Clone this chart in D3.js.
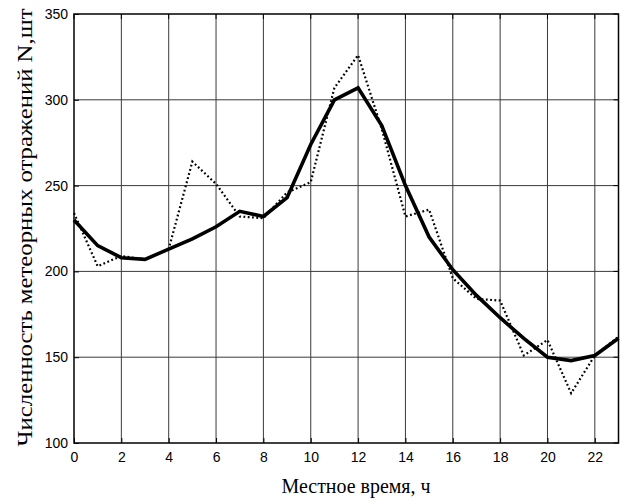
<!DOCTYPE html>
<html>
<head>
<meta charset="utf-8">
<script src="https://cdn.jsdelivr.net/npm/d3@7"></script>
<style>
html,body{margin:0;padding:0;background:#fff;}
svg{display:block;}
</style>
</head>
<body>
<svg id="chart" width="628" height="504"></svg>
<script>
const hours = [0,1,2,3,4,5,6,7,8,9,10,11,12,13,14,15,16,17,18,19,20,21,22,23];
const smoothed = [230,215,208,207,213,219,226,235,232,243,274,300,307,285,250,220,201,186,173,161,150,148,151,161];
const measured = [234,203,209,207,213,264,251,232,231,246,252,307,326,283,232,236,196,184,183,151,160,129,151,162];
const xTicks = [0,2,4,6,8,10,12,14,16,18,20,22];
const yTicks = [100,150,200,250,300,350];
const xTitle = "Местное время, ч";
const yTitle = "Численность метеорных отражений N,шт";

const svg = d3.select("#chart");
const L = 74, R = 618.5, T = 14, B = 443;
const x = d3.scaleLinear().domain([0,23]).range([L,R]);
const y = d3.scaleLinear().domain([100,350]).range([B,T]);

// grid
const grid = svg.append("g").attr("stroke","#3a3a3a").attr("stroke-width",1);
grid.selectAll("line.vx").data(xTicks.filter(d=>d>0)).enter().append("line")
  .attr("x1",d=>x(d)).attr("x2",d=>x(d)).attr("y1",T).attr("y2",B);
grid.selectAll("line.hy").data(yTicks.filter(d=>d>100 && d<350)).enter().append("line")
  .attr("x1",L).attr("x2",R).attr("y1",d=>y(d)).attr("y2",d=>y(d));

// axes
const fontTick = "'Liberation Sans', Arial, sans-serif";
const gx = svg.append("g").attr("transform",`translate(0,${B})`)
  .call(d3.axisBottom(x).tickValues(xTicks).tickSize(-5).tickPadding(9).tickFormat(d3.format("d")));
const gy = svg.append("g").attr("transform",`translate(${L},0)`)
  .call(d3.axisLeft(y).tickValues(yTicks).tickSize(-5).tickPadding(6).tickFormat(d3.format("d")));
[gx,gy].forEach(g=>{
  g.select(".domain").remove();
  g.selectAll("text").attr("font-family",fontTick).attr("font-size",14).attr("fill","#000");
  g.selectAll("line").attr("stroke","#000");
});
// right-side ticks
svg.append("g").selectAll("line").data(yTicks).enter().append("line")
  .attr("x1",R).attr("x2",R-5).attr("y1",d=>y(d)).attr("y2",d=>y(d)).attr("stroke","#000");
svg.append("g").selectAll("line").data(xTicks).enter().append("line")
  .attr("x1",d=>x(d)).attr("x2",d=>x(d)).attr("y1",T).attr("y2",T+5).attr("stroke","#000");

// frame
svg.append("rect").attr("x",L).attr("y",T).attr("width",R-L).attr("height",B-T)
  .attr("fill","none").attr("stroke","#000").attr("stroke-width",1.5);

const line = d3.line().x((d,i)=>x(hours[i])).y(d=>y(d));
svg.append("path").datum(measured).attr("d",line)
  .attr("fill","none").attr("stroke","#000").attr("stroke-width",2.2)
  .attr("stroke-dasharray","1.8,2.5");
svg.append("path").datum(smoothed).attr("d",line)
  .attr("fill","none").attr("stroke","#000").attr("stroke-width",3.6)
  .attr("stroke-linejoin","miter");

const fontTitle = "'Liberation Serif', 'Times New Roman', serif";
svg.append("text").attr("x",356).attr("y",493).attr("text-anchor","middle")
  .attr("font-family",fontTitle).attr("font-size",22)
  .attr("textLength",149).attr("lengthAdjust","spacingAndGlyphs")
  .text(xTitle);
svg.append("text").attr("transform","translate(32,227.5) rotate(-90)")
  .attr("text-anchor","middle")
  .attr("font-family",fontTitle).attr("font-size",22)
  .attr("textLength",438).attr("lengthAdjust","spacingAndGlyphs")
  .text(yTitle);
</script>
</body>
</html>
